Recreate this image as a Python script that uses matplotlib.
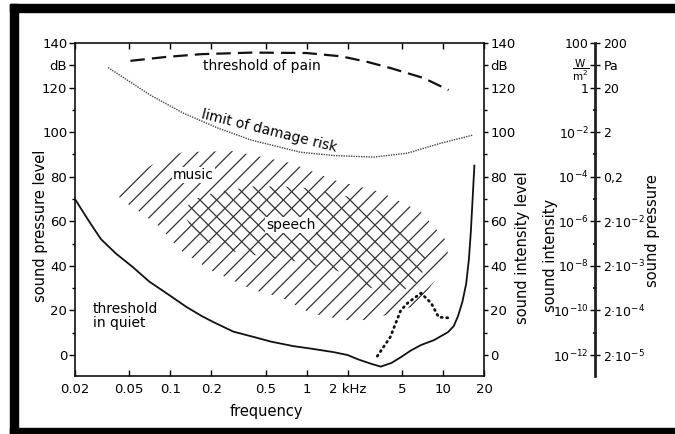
import matplotlib
matplotlib.use("Agg")
import matplotlib.pyplot as plt
from matplotlib.patches import Rectangle
from matplotlib.ticker import NullLocator

plt.rcParams["font.family"] = ["DejaVu Sans"]
plt.rcParams["mathtext.fontset"] = "dejavusans"
plt.rcParams["hatch.linewidth"] = 0.9

# Frequency axis (kHz) and level axes
freq_ticks = [0.02, 0.05, 0.1, 0.2, 0.5, 1, 2, 5, 10, 20]
freq_labels = ["0.02", "0.05", "0.1", "0.2", "0.5", "1", "2 kHz", "5", "10", "20"]
level_ticks = [0, 20, 40, 60, 80, 100, 120, 130, 140]
level_labels = ["0", "20", "40", "60", "80", "100", "120", "dB", "140"]
level_minor = [10, 30, 50, 70, 90, 110]

# Equivalent sound intensity (W/m^2) and sound pressure (Pa) scales
scale_ticks = [0, 20, 40, 60, 80, 100, 120, 130, 140]
intensity_labels = ["10$^{-12}$", "10$^{-10}$", "10$^{-8}$", "10$^{-6}$",
                    "10$^{-4}$", "10$^{-2}$", "1",
                    r"$\dfrac{\mathrm{W}}{\mathrm{m}^2}$", "100"]
pressure_labels = ["2·10$^{-5}$", "2·10$^{-4}$", "2·10$^{-3}$", "2·10$^{-2}$",
                   "0,2", "2", "20", "Pa", "200"]

# Threshold in quiet
quiet_f = [0.02, 0.0225, 0.026, 0.031, 0.04, 0.053, 0.07, 0.095, 0.132, 0.17,
           0.207, 0.29, 0.41, 0.55, 0.8, 1.1, 1.58, 2.0, 2.4, 3.0, 3.5, 4.2,
           4.9, 5.8, 6.9, 8.6, 10.9, 12.0, 12.9, 13.9, 14.8, 15.5, 16.0, 16.5, 17.0]
quiet_db = [70, 65, 59, 52, 45.5, 39.5, 33, 27.5, 21.5, 17.5,
            14.8, 10.5, 8.1, 6, 4, 2.8, 1.3, 0, -2, -4, -5.2, -3.5,
            -1, 2, 4.5, 6.7, 10.3, 13, 17.5, 24, 32, 43, 55, 70, 85]

# Threshold of pain
pain_f = [0.051, 0.095, 0.17, 0.4, 1.0, 1.8, 2.8, 4.1, 7.2, 11.0]
pain_db = [132, 133.8, 135, 135.7, 135.5, 134, 131.5, 128.8, 124.3, 118.9]

# Limit of damage risk
risk_f = [0.035, 0.071, 0.124, 0.22, 0.39, 0.9, 1.6, 3.1, 5.5, 9.6, 16.6]
risk_db = [129, 116.7, 108.6, 102, 96.5, 91, 89.5, 88.8, 90.6, 95, 98.7]

# Dip of the threshold curve (dotted)
dip_f = [3.3, 4.1, 4.9, 5.5, 6.9, 8.2, 9.3, 11.4]
dip_db = [-0.5, 8, 20, 23.3, 27.8, 23.3, 17, 16.6]

# Music and speech areas
music_f = [0.0414, 0.0507, 0.0843, 0.124, 0.29, 0.762, 1.58, 3.5, 6.9, 10.5,
           11.1, 7.75, 5.8, 2.95, 1.87, 1.07, 0.643, 0.407, 0.197, 0.118,
           0.0843, 0.0534, 0.0429]
music_db = [73.1, 79.4, 87.5, 91.1, 91.5, 86.2, 78.5, 73.1, 64.2, 51.6,
            41.7, 29.2, 21.5, 15.7, 15.7, 18.8, 26.0, 29.2, 38.1, 47.1,
            57.4, 66.4, 69.6]
speech_f = [0.124, 0.145, 0.214, 0.422, 0.902, 2.10, 4.9, 7.5, 6.9, 4.9,
            2.95, 1.93, 0.902, 0.458, 0.253, 0.152]
speech_db = [64.2, 69.6, 73.1, 75.8, 75.4, 70.9, 59.7, 44.9, 33.7, 28.3,
             30.1, 36.8, 41.7, 44.4, 47.1, 53.4]

W, H = 675, 434
fig = plt.figure(figsize=(W / 100, H / 100), dpi=100)

# black frame on the left, top and bottom
for x0, y0, x1, y1 in [(10, 4, 675, 12), (10, 4, 18, 434), (10, 428, 675, 434)]:
    fig.patches.append(Rectangle((x0 / W, 1 - y1 / H), (x1 - x0) / W, (y1 - y0) / H,
                                 transform=fig.transFigure, color="black", zorder=0))

ax_l, ax_r, ax_t, ax_b = 75, 484, 43, 376
rect = [ax_l / W, 1 - ax_b / H, (ax_r - ax_l) / W, (ax_b - ax_t) / H]
ax = fig.add_axes(rect)
ax.set_xscale("log")
ax.set_xlim(0.02, 20)
ax.set_ylim(-9.4, 140)

ink = "#111111"
ax.fill(music_f, music_db, facecolor="none", edgecolor="#333333", hatch="//", linewidth=0)
ax.fill(speech_f, speech_db, facecolor="none", edgecolor="#333333", hatch="\\\\", linewidth=0)

ax.plot(quiet_f, quiet_db, color=ink, lw=1.3)
ax.plot(pain_f, pain_db, color=ink, lw=1.6, dashes=(6.5, 3.2))
ax.plot(risk_f, risk_db, color="#444444", lw=1.0, linestyle=(0, (1, 0.8)))
ax.plot(dip_f, dip_db, color=ink, lw=2.0, linestyle=(0, (0.4, 1.6)),
        dash_capstyle="round")

ax.text(0.47, 129.5, "threshold of pain", fontsize=10, ha="center", va="center")
ax.text(0.53, 100.5, "limit of damage risk", fontsize=10, ha="center", va="center",
        rotation=-14, rotation_mode="anchor")
ax.text(0.148, 80.8, "music", fontsize=10, ha="center", va="center",
        bbox=dict(facecolor="white", edgecolor="none", pad=0.5))
ax.text(0.762, 58.3, "speech", fontsize=10, ha="center", va="center",
        bbox=dict(facecolor="white", edgecolor="none", pad=0.5))
ax.text(0.0271, 17.5, "threshold\nin quiet", fontsize=10, ha="left", va="center",
        linespacing=1.05)

for s in ax.spines.values():
    s.set_linewidth(1.2)
    s.set_color(ink)

ax.set_xticks(freq_ticks, freq_labels)
ax.xaxis.set_minor_locator(NullLocator())
ax.tick_params(axis="x", which="major", direction="in", length=4, width=1,
               top=True, labelsize=9.5, pad=5)
ax.set_yticks(level_ticks, level_labels)
ax.set_yticks(level_minor, minor=True)
ax.tick_params(axis="y", which="major", direction="out", length=4, width=1,
               labelsize=9.5, pad=1.5)
ax.tick_params(axis="y", which="minor", direction="out", length=2, width=1)
ax.set_xlabel("frequency", fontsize=10.5)
ax.xaxis.set_label_coords((266 - ax_l) / (ax_r - ax_l), -0.085)
ax.set_ylabel("sound pressure level", fontsize=10.5, va="center")
ax.yaxis.set_label_coords((41 - ax_l) / (ax_r - ax_l), (ax_b - 226) / (ax_b - ax_t))

ax2 = ax.twinx()
ax2.set_ylim(ax.get_ylim())
for s in ax2.spines.values():
    s.set_visible(False)
ax2.set_yticks(level_ticks, level_labels)
ax2.set_yticks(level_minor, minor=True)
ax2.tick_params(axis="y", which="major", direction="out", length=3, width=1,
                labelsize=9.5, pad=1.5)
ax2.tick_params(axis="y", which="minor", direction="out", length=2, width=1)
ax2.set_ylabel("sound intensity level", fontsize=10.5, va="center")
ax2.yaxis.set_label_coords((523 - ax_l) / (ax_r - ax_l), (ax_b - 248) / (ax_b - ax_t))

# separate scale for intensity (left) and pressure (right)
sx = 595
ax3 = fig.add_axes([sx / W, 1 - ax_b / H, 0.0001, (ax_b - ax_t) / H])
ax3.set_ylim(ax.get_ylim())
for name, s in ax3.spines.items():
    s.set_visible(name == "left")
ax3.spines["left"].set_linewidth(2.0)
ax3.spines["left"].set_color("#222222")
ax3.set_xticks([])
ax3.set_yticks(scale_ticks, intensity_labels)
ax3.set_yticks(level_minor, minor=True)
ax3.tick_params(axis="y", which="major", direction="inout", length=7, width=1,
                labelsize=9, pad=1)
ax3.tick_params(axis="y", which="minor", direction="inout", length=3, width=1.2)
# the W/m^2 unit is set a little smaller so it sits between 100 and 1
ax3.get_yticklabels()[scale_ticks.index(130)].set_fontsize(7.5)

ax4 = ax3.twinx()
ax4.set_ylim(ax.get_ylim())
for s in ax4.spines.values():
    s.set_visible(False)
ax4.set_yticks(scale_ticks, pressure_labels)
ax4.tick_params(axis="y", which="major", length=0, labelsize=9, pad=6)

fig.text(551 / W, 1 - 255 / H, "sound intensity", rotation=90, fontsize=10.5,
         ha="center", va="center")
fig.text(653 / W, 1 - 231 / H, "sound pressure", rotation=90, fontsize=10.5,
         ha="center", va="center")

fig.savefig("out.png", dpi=100)
